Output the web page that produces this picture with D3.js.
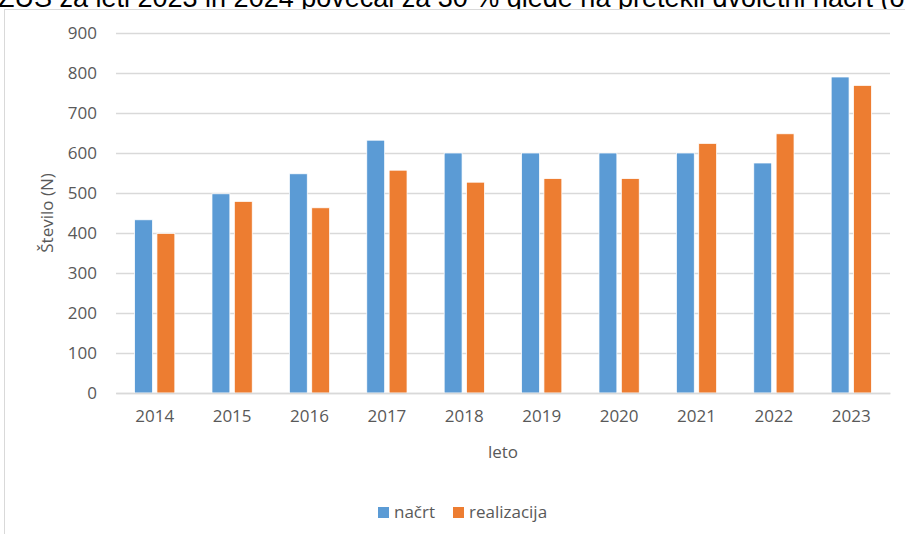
<!DOCTYPE html>
<meta charset="utf-8">
<head>
  <style>
    body { margin: 0; background: #fff; }
    .tick-label { font-family: "Open Sans", sans-serif; font-size: 17px; fill: #595959; }
  </style>
  <title></title>
</head>
<body>
<div id="my_dataviz"></div>
<script src="https://d3js.org/d3.v7.min.js"></script>
<script>

// data
var years = ["2014", "2015", "2016", "2017", "2018", "2019", "2020", "2021", "2022", "2023"];
var nacrt = [433, 498, 548, 632, 600, 600, 600, 600, 575, 790];
var realizacija = [399, 479, 463, 557, 527, 536, 536, 624, 648, 769];
var seriesNames = ["načrt", "realizacija"];
var seriesColors = ["#5B9BD5", "#ED7D31"];
var yTicks = [0, 100, 200, 300, 400, 500, 600, 700, 800, 900];

var width = 905, height = 534;
var plot = {left: 116, right: 890, top: 33, bottom: 393};

var svg = d3.select("#my_dataviz")
  .append("svg")
    .attr("width", width)
    .attr("height", height);

// line of body text above the chart, cut by the top edge as in the source
svg.append("text")
    .attr("x", -2)
    .attr("y", 7)
    .style("font", "27px 'Liberation Sans', Arial, sans-serif")
    .style("fill", "#000")
    .text("ZUS za leti 2023 in 2024 povečal za 30 % glede na pretekli dvoletni načrt (o");

// chart frame
svg.append("rect")
    .attr("x", 4.5)
    .attr("y", 9.5)
    .attr("width", 1000)
    .attr("height", 600)
    .attr("fill", "#fff")
    .attr("stroke", "#d9d9d9")
    .attr("stroke-width", 1);

var x0 = d3.scaleBand()
  .domain(years)
  .range([plot.left, plot.right])
  .paddingInner(0.48)
  .paddingOuter(0.24);

var x1 = d3.scaleBand()
  .domain(seriesNames)
  .range([0, x0.bandwidth()])
  .paddingInner(0.2);

var y = d3.scaleLinear()
  .domain([0, 900])
  .range([plot.bottom, plot.top]);

var color = d3.scaleOrdinal().domain(seriesNames).range(seriesColors);

// gridlines + y labels
var yAxis = svg.append("g")
  .attr("transform", "translate(" + plot.left + ",0)")
  .call(d3.axisLeft(y).tickValues(yTicks).tickSize(-(plot.right - plot.left)).tickPadding(19));
yAxis.select(".domain").remove();
yAxis.selectAll(".tick line").attr("stroke", "#d9d9d9").attr("stroke-width", 1.5);
yAxis.selectAll(".tick text").attr("class", "tick-label").attr("font-family", null).attr("font-size", null);

// bars
var rows = years.map(function(d, i) { return {year: d, values: [nacrt[i], realizacija[i]]}; });

svg.append("g")
  .selectAll("g")
  .data(rows)
  .enter()
  .append("g")
    .attr("transform", function(d) { return "translate(" + x0(d.year) + ",0)"; })
  .selectAll("rect")
  .data(function(d) { return seriesNames.map(function(s, j) { return {key: s, value: d.values[j]}; }); })
  .enter()
  .append("rect")
    .attr("x", function(d) { return x1(d.key); })
    .attr("y", function(d) { return y(d.value); })
    .attr("width", x1.bandwidth())
    .attr("height", function(d) { return y(0) - y(d.value); })
    .attr("fill", function(d) { return color(d.key); })
    .attr("stroke", "#fff")
    .attr("stroke-width", 0.75);

// x axis
var xAxis = svg.append("g")
  .attr("transform", "translate(0," + plot.bottom + ")")
  .call(d3.axisBottom(x0).tickSize(0).tickPadding(17));
xAxis.select(".domain").attr("stroke", "#d9d9d9").attr("stroke-width", 1.5);
xAxis.selectAll(".tick text").attr("class", "tick-label").attr("font-family", null).attr("font-size", null);

// axis titles
svg.append("text")
    .attr("class", "tick-label")
    .attr("text-anchor", "middle")
    .attr("x", (plot.left + plot.right) / 2)
    .attr("y", 458)
    .text("leto");

svg.append("text")
    .attr("class", "tick-label")
    .attr("text-anchor", "middle")
    .attr("transform", "translate(53," + (plot.top + plot.bottom) / 2 + ") rotate(-90)")
    .text("Število (N)");

// legend
var legendItems = [{name: seriesNames[0], x: 378}, {name: seriesNames[1], x: 453}];
var legend = svg.append("g").selectAll("g")
  .data(legendItems)
  .enter()
  .append("g")
    .attr("transform", function(d) { return "translate(" + d.x + ",507)"; });
legend.append("rect")
    .attr("width", 11)
    .attr("height", 11)
    .attr("fill", function(d) { return color(d.name); });
legend.append("text")
    .attr("class", "tick-label")
    .attr("x", 16)
    .attr("y", 11)
    .text(function(d) { return d.name; });

</script>
</body>
